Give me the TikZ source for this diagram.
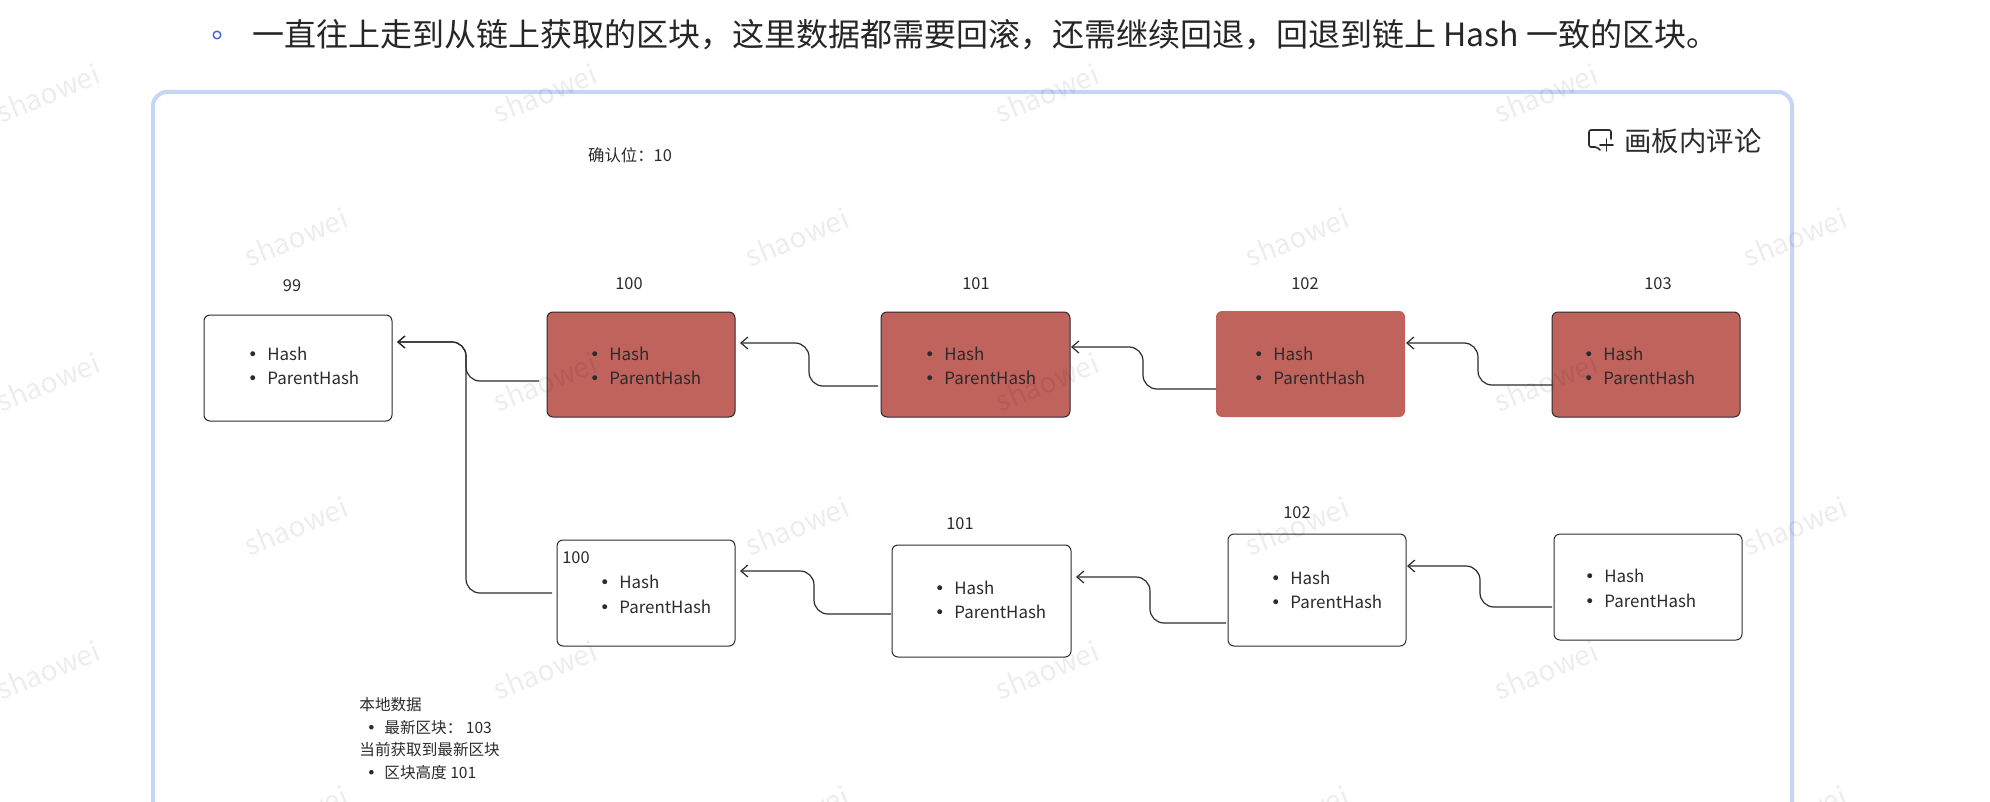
\documentclass[tikz,border=0pt]{standalone}
\usepackage{fontspec}
\setmainfont{Noto Sans CJK SC}
\newfontfamily\dotfont{DejaVu Sans}
\usetikzlibrary{arrows.meta}
\definecolor{framecol}{HTML}{C6D4F8}
\definecolor{blockred}{HTML}{C1635D}
\definecolor{inkcol}{HTML}{2B2B2B}
\definecolor{dotblue}{HTML}{3F63E0}
\newcommand{\listdot}[1]{\makebox[#1][l]{\hspace*{-0.8pt}{\dotfont\textbullet}}}
\newcommand{\hashlist}{\listdot{9pt}Hash\\\listdot{9pt}ParentHash}
\tikzset{
	boxsize/.style 2 args={minimum width=#1*0.5pt, minimum height=#2*0.5pt},
	blockbox/.style={draw=inkcol, line width=0.5pt, rounded corners=3pt, inner sep=0pt, outer sep=0pt},
	redbox/.style={blockbox, fill=blockred},
	hashtext/.style={anchor=west, align=left, inner sep=0pt, font=\fontsize{8.45}{12.3}\selectfont, text=inkcol},
	numtext/.style={inner sep=0pt, font=\fontsize{8.2}{10}\selectfont, text=inkcol},
	link/.style={->, draw=inkcol, line width=0.6pt, rounded corners=7pt},
	wmark/.style={inner sep=0pt, rotate=22, text=black, opacity=0.07, font=\fontsize{14}{15}\selectfont},
}
\begin{document}
\begin{tikzpicture}[x=0.5pt, y=-0.5pt, line join=round, >={Straight Barb[length=3.5pt,width=6pt]}]
	\useasboundingbox (0,0) rectangle (1990,802);
	\clip (0,0) rectangle (1990,802);
	% top line and frame
	\draw[dotblue, line width=0.7pt] (217,35) circle (1.9pt);
	\node[anchor=west, inner sep=0pt, text=black!85, font=\fontsize{16}{20}\selectfont] (title) at (252,35) {一直往上走到从链上获取的区块，这里数据都需要回滚，还需继续回退，回退到链上 Hash 一致的区块。};
	\draw[framecol, line width=2pt, rounded corners=7pt] (153,830) -- (153,92) -- (1792,92) -- (1792,830);
	% comment button
	\draw[inkcol, line width=0.8pt, line cap=round, rounded corners=1pt] (1611,139) -- (1611,130) -- (1589,130) -- (1589,147) -- (1597,147) -- (1600,150);
	\draw[inkcol, line width=0.8pt, line cap=round] (1600,145) -- (1613,145) (1606.5,139) -- (1606.5,151);
	\node[inner sep=0pt, text=inkcol, font=\fontsize{13.7}{16}\selectfont] (comment) at (1693,141) {画板内评论};
	\node[numtext] (confirm) at (630,155) {确认位：10};
	% chain blocks
	\node[blockbox, boxsize={188}{106}] (b99) at (298,368) {};
	\node[redbox, boxsize={188}{105}] (b100) at (641,364.5) {};
	\node[redbox, boxsize={189}{105}] (b101) at (975.5,364.5) {};
	\node[redbox, draw=none, boxsize={189}{106}] (b102) at (1310.5,364) {};
	\node[redbox, boxsize={188}{105}] (b103) at (1646,364.5) {};
	% local blocks
	\node[blockbox, boxsize={178}{106}] (a100) at (646,593) {};
	\node[blockbox, boxsize={179}{112}] (a101) at (981.5,601) {};
	\node[blockbox, boxsize={178}{112}] (a102) at (1317,590) {};
	\node[blockbox, boxsize={188}{106}] (a103) at (1648,587) {};
	\foreach \n/\x/\y in {b99/249/366, b100/591/366, b101/926/366, b102/1255/366, b103/1585/366, a100/601/594.5, a101/936/600, a102/1272/590, a103/1586/588.5}
		\node[hashtext] (t\n) at (\x,\y) {\hashlist};
	% block numbers
	\node[numtext] (n99) at (292,286) {99};
	\node[numtext] (n100) at (629,284) {100};
	\node[numtext] (n101) at (976,284) {101};
	\node[numtext] (n102) at (1305,284) {102};
	\node[numtext] (n103) at (1658,284) {103};
	\node[numtext] (m100) at (576,558) {100};
	\node[numtext] (m101) at (960,524) {101};
	\node[numtext] (m102) at (1297,513) {102};
	% links
	\draw[link] ([xshift=-4pt,yshift=-8.25pt]b100.west) -- ++(-73,0) |- ([xshift=2.5pt,yshift=13pt]b99.east);
	\draw[link] ([xshift=-1.5pt,yshift=-10.75pt]b101.west) -- ++(-69,0) |- ([xshift=2.5pt,yshift=10.75pt]b100.east);
	\draw[link] ([yshift=-12.5pt]b102.west) -- ++(-73,0) |- ([xshift=0.5pt,yshift=8.75pt]b101.east);
	\draw[link] ([yshift=-10.25pt]b103.west) -- ++(-74,0) |- ([xshift=0.5pt,yshift=10.5pt]b102.east);
	\draw[link] ([xshift=-2.5pt]a100.west) -- ++(-86,0) |- ([xshift=2.5pt,yshift=13pt]b99.east);
	\draw[link] ([xshift=-0.5pt,yshift=-6.5pt]a101.west) -- ++(-77,0) |- ([xshift=2.5pt,yshift=11pt]a100.east);
	\draw[link] ([xshift=-1pt,yshift=-16.5pt]a102.west) -- ++(-76,0) |- ([xshift=2.5pt,yshift=12pt]a101.east);
	\draw[link] ([xshift=-1pt,yshift=-10pt]a103.west) -- ++(-72,0) |- ([xshift=0.5pt,yshift=12pt]a102.east);
	% notes
	\node[anchor=north west, inner sep=0pt, align=left, text=inkcol, font=\fontsize{7.8}{11.25}\selectfont] (notes) at (359,697) {本地数据\\\hspace*{4.5pt}\listdot{8pt}最新区块： 103\\当前获取到最新区块\\\hspace*{4.5pt}\listdot{8pt}区块高度 101};
	% watermark
	\foreach \y in {93,382,670}
		\foreach \x in {48,545,1047,1546}
			\node[wmark] (w\x-\y) at (\x,\y) {shaowei};
	\foreach \y in {237,526,815}
		\foreach \x in {296,797,1297,1795}
			\node[wmark] (w\x-\y) at (\x,\y) {shaowei};
\end{tikzpicture}
\end{document}
